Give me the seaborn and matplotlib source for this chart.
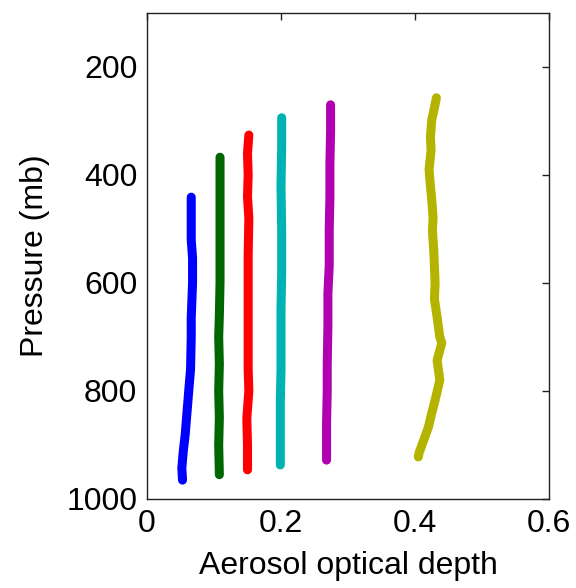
import matplotlib
matplotlib.use("Agg")
import matplotlib.pyplot as plt
import seaborn as sns
import pandas as pd

# ---- data ----
blue_p = [441, 470, 520, 554, 600, 665, 700, 760, 789, 820, 850, 881, 913, 943, 965]
blue_x = [0.066, 0.066, 0.066, 0.068, 0.068, 0.066, 0.066, 0.065, 0.063, 0.061, 0.059, 0.057, 0.054, 0.052, 0.053]

green_p = [367, 420, 480, 540, 600, 660, 700, 750, 800, 850, 900, 955]
green_x = [0.109, 0.109, 0.109, 0.109, 0.109, 0.108, 0.107, 0.108, 0.107, 0.108, 0.107, 0.108]

red_p = [326, 360, 400, 440, 480, 550, 620, 700, 760, 800, 850, 900, 946]
red_x = [0.152, 0.150, 0.151, 0.150, 0.152, 0.151, 0.151, 0.151, 0.151, 0.152, 0.149, 0.150, 0.150]

cyan_p = [294, 350, 420, 500, 580, 650, 700, 760, 820, 880, 937]
cyan_x = [0.201, 0.201, 0.200, 0.201, 0.201, 0.200, 0.200, 0.200, 0.199, 0.199, 0.199]

mag_p = [270, 320, 380, 440, 500, 567, 620, 680, 752, 800, 860, 928]
mag_x = [0.274, 0.274, 0.273, 0.273, 0.272, 0.272, 0.270, 0.270, 0.269, 0.269, 0.268, 0.268]

yel_p = [257, 275, 298, 330, 354, 390, 420, 446, 480, 502, 540, 600, 630, 663, 700, 711, 743, 780, 817, 841, 867, 891, 915, 922]
yel_x = [0.432, 0.429, 0.425, 0.423, 0.424, 0.421, 0.423, 0.425, 0.427, 0.426, 0.428, 0.430, 0.429, 0.433, 0.437, 0.440, 0.433, 0.437, 0.430, 0.425, 0.420, 0.413, 0.406, 0.405]

series_names = ["blue", "green", "red", "cyan", "magenta", "yellow"]
series_p = [blue_p, green_p, red_p, cyan_p, mag_p, yel_p]
series_x = [blue_x, green_x, red_x, cyan_x, mag_x, yel_x]
colors = ["#0000FF", "#006600", "#FF0000", "#00B3B3", "#B000B0", "#B4B400"]

x_ticks = [0, 0.2, 0.4, 0.6]
x_ticklabels = ["0", "0.2", "0.4", "0.6"]
y_ticks = [200, 400, 600, 800, 1000]

rows = []
for name, ps, xs in zip(series_names, series_p, series_x):
    for p, x in zip(ps, xs):
        rows.append({"series": name, "aod": x, "p": p})
df = pd.DataFrame(rows)

sns.set_style("white")
plt.rcParams["font.family"] = ["Liberation Sans", "DejaVu Sans"]
plt.rcParams["text.color"] = "black"
plt.rcParams["axes.labelcolor"] = "black"

fig = plt.figure(figsize=(5.76, 5.88), dpi=100)
ax = fig.add_axes([147 / 576, 1 - 499 / 588, (549 - 147) / 576, (499 - 13) / 588])

sns.lineplot(data=df, x="aod", y="p", hue="series", palette=dict(zip(series_names, colors)),
             sort=False, estimator=None, legend=False, linewidth=6.5, ax=ax,
             solid_capstyle="round", solid_joinstyle="round")

ax.set_xlim(0, 0.6)
ax.set_ylim(1000, 100)
ax.set_xticks(x_ticks)
ax.set_xticklabels(x_ticklabels)
ax.set_yticks(y_ticks)

for s in ax.spines.values():
    s.set_visible(True)
    s.set_color("#222222")
    s.set_linewidth(1.0)

ax.tick_params(direction="in", length=5, width=1, colors="#222222", labelcolor="black",
               labelsize=23, top=True, right=True, pad=7)
ax.set_xlabel("Aerosol optical depth", fontsize=23, labelpad=9, color="black")
ax.set_ylabel("Pressure (mb)", fontsize=23, labelpad=12, color="black")

fig.savefig("out.png", dpi=100)
